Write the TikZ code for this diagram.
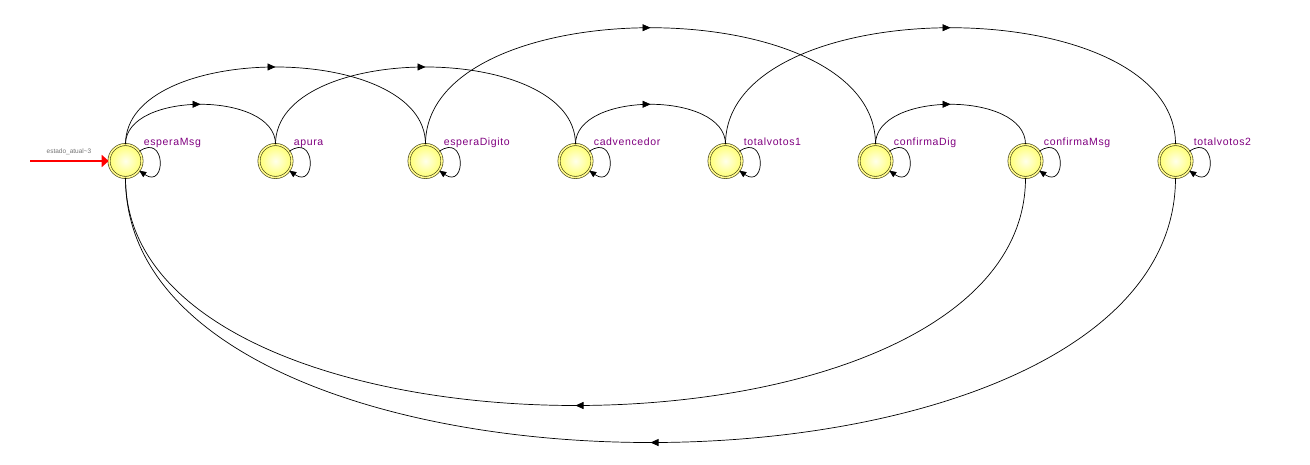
\documentclass[tikz,border=0pt]{standalone}
\usepackage{fontspec}
\setmainfont{Liberation Sans}
\newfontfamily\rotfont[LetterSpace=6]{Liberation Sans}
\usetikzlibrary{arrows.meta,decorations.markings}
\definecolor{roxo}{RGB}{128,0,128}
\definecolor{borda}{RGB}{60,60,20}
\tikzset{
  estado/.style={circle,minimum size=16.5pt,inner sep=0pt,draw=borda,line width=0.3pt,
    double=yellow!45!white,double distance=0.8pt,
    inner color=yellow!8!white,outer color=yellow!55!white},
  rotulo/.style={anchor=base west,inner sep=0pt,text=roxo,font=\rotfont\fontsize{5.25}{6}\selectfont},
  arco/.style={line width=0.35pt,postaction={decorate},
    decoration={markings,mark=at position 0.5 with {\arrow{Triangle[length=4pt,width=3.5pt]}}}},
  laco/.style={line width=0.35pt,-{Triangle[length=3.5pt,width=3pt]},out=35,in=-35,looseness=4.4},
}
\begin{document}
\begin{tikzpicture}[x=0.5pt,y=-0.5pt]
			\useasboundingbox (0,0) rectangle (1310,465);
			\foreach\n [count=\i from 0] in {esperaMsg,apura,esperaDigito,cadvencedor,totalvotos1,confirmaDig,confirmaMsg,totalvotos2}{
				\node[estado] (s\i) at (\i*150+125.5,161){};
				\node[rotulo] (l\i) at (\i*150+143.5,145.5){\n};
			}
			\foreach\i in {0,1,...,7}{
				\draw[laco] (s\i) to (s\i);
			}
			% arcos de cima
			\draw[arco] (s0.north) to[out=90,in=90,looseness=0.91] (s1.north);
			\draw[arco] (s0.north) to[out=90,in=90,looseness=0.88] (s2.north);
			\draw[arco] (s1.north) to[out=90,in=90,looseness=0.88] (s3.north);
			\draw[arco] (s3.north) to[out=90,in=90,looseness=0.91] (s4.north);
			\draw[arco] (s2.north) to[out=90,in=90,looseness=0.885] (s5.north);
			\draw[arco] (s4.north) to[out=90,in=90,looseness=0.885] (s7.north);
			\draw[arco] (s5.north) to[out=90,in=90,looseness=0.91] (s6.north);
			% arcos de baixo
			\draw[arco] (s6.south) to[out=-90,in=-90,looseness=0.865] (s0.south);
			\draw[arco] (s7.south) to[out=-90,in=-90,looseness=0.862] (s0.south);
			% estado inicial
			\coordinate (ini) at (30,161);
			\draw[red,line width=0.9pt,-{Triangle[length=3.5pt,width=6pt]}] (ini) -- (s0);
			\node[text=black!55,font=\fontsize{3.25}{4}\selectfont,inner sep=0pt] (li) at (69,152){estado\_atual\textasciitilde3};
\end{tikzpicture}
\end{document}
